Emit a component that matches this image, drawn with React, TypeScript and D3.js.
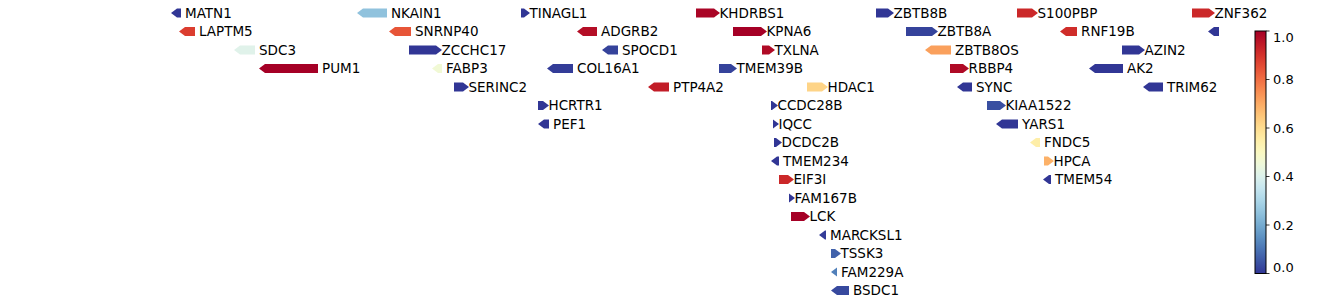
import React from "react";
import * as d3 from "d3";

// Gene track data (positions in kb along the region)
const geneNames = [
  "MATN1","NKAIN1","TINAGL1","KHDRBS1","ZBTB8B","S100PBP","ZNF362",
  "LAPTM5","SNRNP40","ADGRB2","KPNA6","ZBTB8A","RNF19B","",
  "SDC3","ZCCHC17","SPOCD1","TXLNA","ZBTB8OS","AZIN2",
  "PUM1","FABP3","COL16A1","TMEM39B","RBBP4","AK2",
  "SERINC2","PTP4A2","HDAC1","SYNC","TRIM62",
  "HCRTR1","CCDC28B","KIAA1522",
  "PEF1","IQCC","YARS1",
  "DCDC2B","FNDC5",
  "TMEM234","HPCA",
  "EIF3I","TMEM54",
  "FAM167B","LCK","MARCKSL1","TSSK3","FAM229A","BSDC1",
];
const geneStarts = [
  1,187,351,526,706,847,1022,
  9,219,407,563,736,890,1038,
  64,239,432,592,755,952,
  89,262,377,549,780,919,
  284,478,637,787,973,
  368,601,817,
  368,603,826,
  604,860,
  601,874,
  609,873,
  619,621,649,661,661,661,
];
const geneEnds = [
  11,217,360,550,724,868,1045,
  25,241,427,597,768,907,1049,
  85,272,448,605,781,975,
  148,272,403,567,799,953,
  299,499,658,802,993,
  379,608,836,
  379,609,848,
  612,870,
  609,884,
  624,881,
  625,640,656,671,667,679,
];
const geneStrands = [
  -1,-1,1,1,1,1,1,
  -1,-1,-1,1,1,-1,-1,
  -1,1,-1,1,-1,1,
  -1,-1,-1,1,1,-1,
  1,-1,1,-1,-1,
  1,1,1,
  -1,1,-1,
  1,-1,
  -1,1,
  1,-1,
  1,1,-1,1,-1,-1,
];
const geneRows = [
  0,0,0,0,0,0,0,
  1,1,1,1,1,1,1,
  2,2,2,2,2,2,
  3,3,3,3,3,3,
  4,4,4,4,4,
  5,5,5,
  6,6,6,
  7,7,
  8,8,
  9,9,
  10,11,12,13,14,15,
];
const geneValues = [
  0.0,0.25,0.0,0.99,0.0,0.92,0.92,
  0.88,0.84,0.97,1.0,0.02,0.91,0.0,
  0.41,0.0,0.02,0.98,0.72,0.0,
  1.0,0.46,0.01,0.02,0.98,0.0,
  0.0,0.94,0.62,0.0,0.0,
  0.0,0.0,0.04,
  0.0,0.0,0.0,
  0.0,0.55,
  0.0,0.69,
  0.92,0.0,
  0.0,1.0,0.01,0.07,0.12,0.03,
];
const colorbarTicks = [0, 0.2, 0.4, 0.6, 0.8, 1.0];

const W = 1338;
const H = 305;
const FONT = "DejaVu Sans, sans-serif";

export default function App() {
  const x = d3.scaleLinear().domain([0, 1100]).range([170, 1270]);
  const y = d3.scaleLinear().domain([0, 15]).range([13, 290.5]);
  const color = (v: number) => d3.interpolateRdYlBu(1 - v);
  const cb = d3.scaleLinear().domain([0, 1]).range([273.5, 31]);
  const cbX = 1255;
  const cbW = 11;
  const h = 9;
  const headLen = 6;

  const genes = geneNames.map((name, i) => ({
    name,
    start: geneStarts[i],
    end: geneEnds[i],
    strand: geneStrands[i],
    row: geneRows[i],
    value: geneValues[i],
  }));

  const arrowPath = (g: typeof genes[number]) => {
    const x0 = x(g.start);
    const x1 = x(g.end);
    const cy = y(g.row);
    const hl = Math.min(headLen, x1 - x0);
    const t = cy - h / 2;
    const b = cy + h / 2;
    if (g.strand > 0) {
      return `M${x0},${t}L${x1 - hl},${t}L${x1},${cy}L${x1 - hl},${b}L${x0},${b}Z`;
    }
    return `M${x0 + hl},${t}L${x1},${t}L${x1},${b}L${x0 + hl},${b}L${x0},${cy}Z`;
  };

  const stops = d3.range(0, 1.0001, 0.05);

  return (
    <svg
      width={W}
      height={H}
      style={{ position: "absolute", left: 0, top: 0, background: "#fff" }}
      fontFamily={FONT}
    >
      <defs>
        <linearGradient id="cbgrad" x1="0" y1="1" x2="0" y2="0">
          {stops.map((s) => (
            <stop key={s} offset={s} stopColor={color(s)} />
          ))}
        </linearGradient>
      </defs>
      {genes.map((g, i) => (
        <g key={i}>
          <path d={arrowPath(g)} fill={color(g.value)} />
          {g.name && (
            <text
              x={x(g.end) + (g.strand > 0 ? -0.5 : 4)}
              y={y(g.row)}
              dy="0.35em"
              fontSize={13.5}
              fill="#000"
            >
              {g.name}
            </text>
          )}
        </g>
      ))}
      <rect
        x={cbX}
        y={cb(1)}
        width={cbW}
        height={cb(0) - cb(1)}
        fill="url(#cbgrad)"
        stroke="#000"
        strokeWidth={1}
      />
      {colorbarTicks.map((t) => {
        const ty = cb(t);
        const ly = Math.max(37, Math.min(267, ty));
        return (
          <g key={t}>
            <line x1={cbX + cbW} x2={cbX + cbW + 3.5} y1={ty} y2={ty} stroke="#000" strokeWidth={0.8} />
            <text x={cbX + cbW + 7} y={ly} dy="0.35em" fontSize={13} fill="#000">
              {t.toFixed(1)}
            </text>
          </g>
        );
      })}
    </svg>
  );
}
